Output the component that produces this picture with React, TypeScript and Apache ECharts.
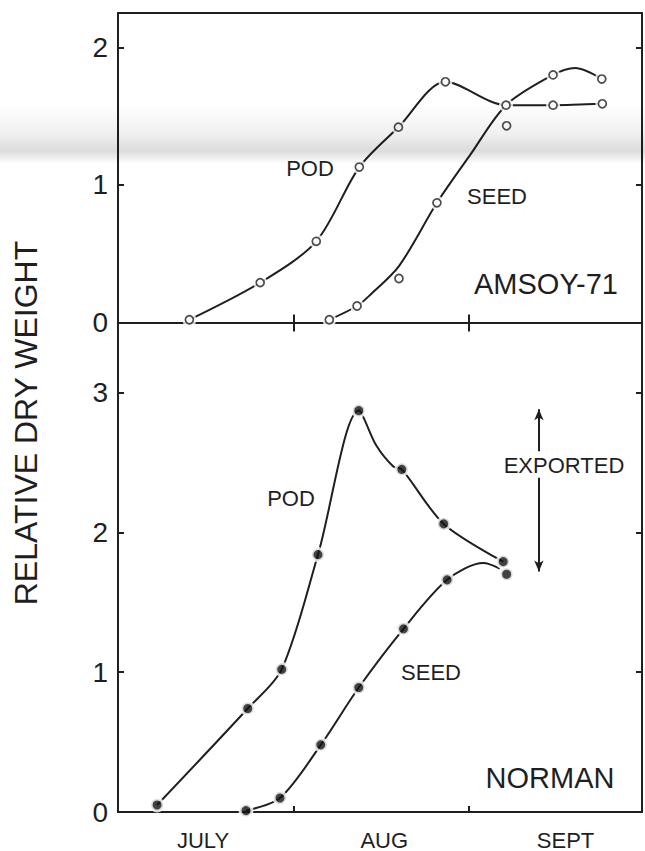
import React, { useEffect, useRef } from "react";
import * as echarts from "echarts";

// ---- data (x = days after 1 July, y = relative dry weight) ----
const monthLabels = ["JULY", "AUG", "SEPT"];
const monthLabelDays = [15, 47, 79];
const monthTickDays = [31, 62];

// AMSOY-71 (open circles)
const amsoyPodPoints = [
  [12.6, 0.02], [25.1, 0.29], [35.0, 0.59], [42.6, 1.13], [49.5, 1.42],
  [57.8, 1.75], [68.5, 1.58], [76.8, 1.58], [85.5, 1.59],
];
const amsoySeedPoints = [
  [37.3, 0.02], [42.2, 0.12], [49.6, 0.32], [56.3, 0.87], [68.6, 1.43],
  [76.8, 1.8], [85.4, 1.77],
];
const amsoyPodCurve = [
  [12.6, 0.02], [25.1, 0.29], [35.0, 0.59], [42.6, 1.13], [49.5, 1.42],
  [57.8, 1.75], [68.5, 1.58], [76.8, 1.58], [85.5, 1.59],
];
const amsoySeedCurve = [
  [37.3, 0.02], [42.2, 0.12], [44.5, 0.2], [49.6, 0.41], [56.3, 0.87],
  [62.2, 1.22], [68.5, 1.58], [76.8, 1.8], [80.7, 1.85], [85.4, 1.77],
];

// NORMAN (filled circles)
const normanPodPoints = [
  [6.9, 0.05], [22.9, 0.74], [28.9, 1.02], [35.3, 1.84], [42.5, 2.87],
  [50.1, 2.45], [57.5, 2.06], [68.0, 1.79],
];
const normanSeedPoints = [
  [22.6, 0.01], [28.6, 0.1], [35.8, 0.48], [42.5, 0.89], [50.4, 1.31],
  [58.1, 1.66], [68.6, 1.7],
];
const normanPodCurve = [
  [6.9, 0.05], [22.9, 0.74], [28.9, 1.02], [35.3, 1.84], [42.5, 2.87],
  [45.6, 2.62], [48.6, 2.47], [50.1, 2.45], [57.5, 2.06], [68.0, 1.79],
];
const normanSeedCurve = [
  [22.6, 0.01], [28.6, 0.1], [35.8, 0.48], [42.5, 0.89], [50.4, 1.31],
  [58.1, 1.66], [64.5, 1.78], [67.4, 1.74],
];
const exportedDay = 74.3;
const exportedLow = 1.72;
const exportedHigh = 2.88;
const exportedGapLow = 2.39;
const exportedGapHigh = 2.58;

const LINE = "#1f1f1f";
const TEXT = "#1f1f1f";
const FONT = "'Liberation Sans', Arial, Helvetica, sans-serif";

export default function App() {
  const ref = useRef<HTMLDivElement>(null);

  useEffect(() => {
    const chart = echarts.init(ref.current!, null, { renderer: "svg" });
    const gridLeft = 118;
    const gridRight = 3;

    const axisLine = { show: true, onZero: false, lineStyle: { color: LINE, width: 2 } };

    const xCommon = {
      type: "value",
      min: 0,
      max: 92.5,
      interval: 31,
      splitLine: { show: false },
      axisLine,
      axisLabel: { show: false },
    };

    const ticks = (len: number) => ({
      show: true,
      inside: true,
      length: len,
      lineStyle: { color: LINE, width: 2 },
    });

    const curve = (data: number[][], gi: number) => ({
      type: "line",
      xAxisIndex: gi === 0 ? 0 : 3,
      yAxisIndex: gi === 0 ? 0 : 2,
      data,
      smooth: 0.3,
      showSymbol: false,
      symbol: "none",
      lineStyle: { color: LINE, width: 2 },
      silent: true,
      z: 2,
    });
    const halo = (data: number[][], gi: number, size: number) => ({
      type: "scatter",
      xAxisIndex: gi === 0 ? 0 : 3,
      yAxisIndex: gi === 0 ? 0 : 2,
      data,
      symbol: "circle",
      symbolSize: size,
      itemStyle: { color: "#ffffff" },
      silent: true,
      z: 3,
    });
    const openPts = (data: number[][]) => ({
      type: "scatter",
      xAxisIndex: 0,
      yAxisIndex: 0,
      data,
      symbol: "circle",
      symbolSize: 8,
      itemStyle: { color: "#ffffff", borderColor: LINE, borderWidth: 1.7 },
      silent: true,
      z: 4,
    });
    const filledPts = (data: number[][]) => ({
      type: "scatter",
      xAxisIndex: 3,
      yAxisIndex: 2,
      data,
      symbol: "circle",
      symbolSize: 12,
      itemStyle: { color: "#111111", borderColor: "#ffffff", borderWidth: 3 },
      silent: true,
      z: 4,
    });

    const text = (t: string, x: number, y: number, size: number) => ({
      type: "text",
      x,
      y,
      silent: true,
      z: 10,
      style: {
        text: t,
        font: `${size}px ${FONT}`,
        fill: TEXT,
        align: "center",
        verticalAlign: "middle",
      },
    });

    const yAxisFor = (gi: number, max: number, side: string) => ({
      type: "value",
      gridIndex: gi,
      position: side,
      min: 0,
      max,
      interval: 1,
      splitLine: { show: false },
      axisLine,
      axisTick: ticks(6),
      axisLabel:
        side === "left"
          ? {
              show: true,
              showMaxLabel: false,
              margin: 10,
              color: TEXT,
              fontSize: 28,
              fontFamily: FONT,
            }
          : { show: false },
    });

    chart.setOption({
      animation: false,
      backgroundColor: "#ffffff",
      grid: [
        { left: gridLeft, right: gridRight, top: 13, height: 309.5 },
        { left: gridLeft, right: gridRight, top: 322.5, height: 490.5 },
      ],
      xAxis: [
        {
          ...xCommon,
          gridIndex: 0,
          position: "bottom",
          axisTick: { ...ticks(8), customValues: monthTickDays },
        },
        { ...xCommon, gridIndex: 0, position: "top", axisTick: { show: false } },
        {
          ...xCommon,
          gridIndex: 1,
          position: "top",
          axisTick: { ...ticks(9), customValues: monthTickDays },
        },
        {
          ...xCommon,
          gridIndex: 1,
          position: "bottom",
          axisTick: { ...ticks(6), customValues: monthTickDays },
          axisLabel: {
            show: true,
            customValues: monthLabelDays,
            margin: 17,
            color: TEXT,
            fontSize: 22,
            fontFamily: FONT,
            formatter: (v: number) => monthLabels[monthLabelDays.indexOf(v)] ?? "",
          },
        },
      ],
      yAxis: [
        yAxisFor(0, 2.25, "left"),
        yAxisFor(0, 2.25, "right"),
        yAxisFor(1, 3.5, "left"),
        yAxisFor(1, 3.5, "right"),
      ],
      series: [
        curve(amsoyPodCurve, 0),
        curve(amsoySeedCurve, 0),
        halo(amsoyPodPoints, 0, 14),
        halo(amsoySeedPoints, 0, 14),
        openPts(amsoyPodPoints),
        openPts(amsoySeedPoints),
        {
          ...curve(normanPodCurve, 1),
          markLine: {
            silent: true,
            animation: false,
            label: { show: false },
            symbolSize: [7, 11],
            lineStyle: { color: LINE, width: 2, type: "solid" },
            data: [
              [
                { coord: [exportedDay, exportedLow], symbol: "arrow" },
                { coord: [exportedDay, exportedGapLow], symbol: "none" },
              ],
              [
                { coord: [exportedDay, exportedGapHigh], symbol: "none" },
                { coord: [exportedDay, exportedHigh], symbol: "arrow" },
              ],
            ],
          },
        },
        curve(normanSeedCurve, 1),
        filledPts(normanPodPoints),
        filledPts(normanSeedPoints),
      ],
      graphic: [
        {
          type: "text",
          x: 26,
          y: 423,
          rotation: Math.PI / 2,
          silent: true,
          style: {
            text: "RELATIVE DRY WEIGHT",
            font: `32px ${FONT}`,
            fill: TEXT,
            align: "center",
            verticalAlign: "middle",
          },
        },
        text("POD", 310, 168, 22),
        text("SEED", 497, 196, 22),
        text("AMSOY-71", 546, 284, 29),
        text("POD", 291, 498, 22),
        text("SEED", 431, 672, 22),
        text("EXPORTED", 564, 465, 22),
        text("NORMAN", 550, 778, 29),
        {
          type: "rect",
          silent: true,
          z: 100,
          shape: { x: 0, y: 104, width: 645, height: 60 },
          style: {
            fill: new echarts.graphic.LinearGradient(0, 0, 0, 1, [
              { offset: 0, color: "rgba(0,0,0,0)" },
              { offset: 0.5, color: "rgba(0,0,0,0.06)" },
              { offset: 0.78, color: "rgba(0,0,0,0.14)" },
              { offset: 1, color: "rgba(0,0,0,0)" },
            ]),
          },
        },
      ],
    });

    return () => chart.dispose();
  }, []);

  return (
    <div
      ref={ref}
      style={{ position: "fixed", left: 0, top: 0, width: 645, height: 851, background: "#fff" }}
    />
  );
}
